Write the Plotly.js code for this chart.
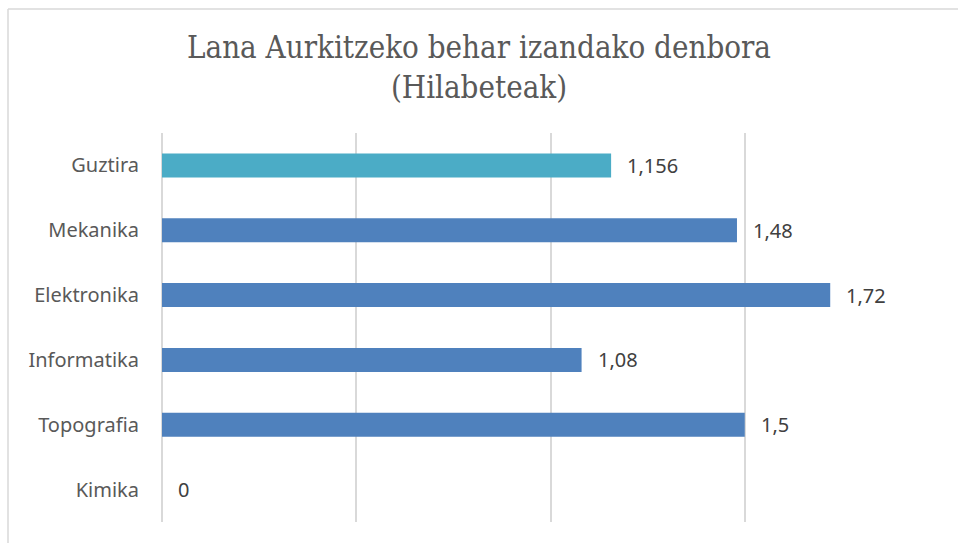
<!DOCTYPE html>
<html>
<head>
<meta charset="utf-8">
<script src="https://cdn.plot.ly/plotly-3.0.1.min.js"></script>
<style>html,body{margin:0;padding:0;background:#fff;}#chart{width:958px;height:543px;}</style>
</head>
<body>
<div id="chart"></div>
<script>
const categories = ["Kimika", "Topografia", "Informatika", "Elektronika", "Mekanika", "Guztira"];
const values = [0, 1.5, 1.08, 1.72, 1.48, 1.156];
const barColors = ["#4F81BD", "#4F81BD", "#4F81BD", "#4F81BD", "#4F81BD", "#4BACC6"];
const xTicks = [0, 0.5, 1, 1.5, 2];
const titleText = "Lana Aurkitzeko behar izandako denbora<br>(Hilabeteak)";

const fmt = v => String(v).replace('.', ',');

const trace = {
  type: 'bar',
  orientation: 'h',
  y: categories,
  x: values,
  width: 0.37,
  marker: {color: barColors},
  hoverinfo: 'none'
};

const annotations = categories.map((c, i) => ({
  x: values[i], y: c, xref: 'x', yref: 'y',
  text: fmt(values[i]), showarrow: false,
  xanchor: 'left', xshift: 14,
  font: {family: 'Noto Sans, sans-serif', size: 20, color: '#404040'}
}));

const layout = {
  width: 958, height: 543,
  margin: {l: 162, r: 19, t: 133, b: 21},
  paper_bgcolor: '#ffffff', plot_bgcolor: '#ffffff',
  title: {
    text: titleText,
    font: {family: 'DejaVu Serif Condensed, DejaVu Serif, serif', size: 31, color: '#595959'},
    x: 0.5, xanchor: 'center', y: 0.893, yanchor: 'top', yref: 'container'
  },
  xaxis: {
    range: [0, 2], tickvals: xTicks, showticklabels: false,
    showgrid: true, gridcolor: '#D9D9D9', gridwidth: 2,
    zeroline: true, zerolinecolor: '#D9D9D9', zerolinewidth: 2,
    showline: false, fixedrange: true
  },
  yaxis: {
    categoryorder: 'array', categoryarray: categories,
    showgrid: false, zeroline: false, showline: false,
    ticks: '', ticklabelstandoff: 22,
    tickfont: {family: 'Noto Sans, sans-serif', size: 20, color: '#595959'},
    fixedrange: true
  },
  showlegend: false,
  annotations: annotations,
  shapes: [
    {type: 'line', xref: 'paper', yref: 'paper', x0: (8-162)/777, x1: (8-162)/777, y0: 1 + (133-9)/389, y1: -0.2, line: {color: '#D9D9D9', width: 1.5}},
    {type: 'line', xref: 'paper', yref: 'paper', x0: (8-162)/777, x1: 1.1, y0: 1 + (133-9)/389, y1: 1 + (133-9)/389, line: {color: '#D9D9D9', width: 1.5}}
  ]
};

Plotly.newPlot('chart', [trace], layout, {displayModeBar: false, staticPlot: true});
</script>
</body>
</html>
